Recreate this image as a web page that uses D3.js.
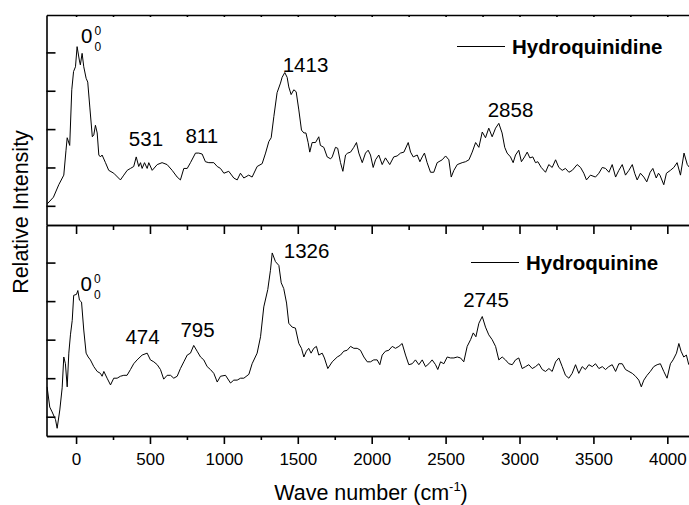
<!DOCTYPE html>
<html><head><meta charset="utf-8">
<script src="https://cdn.jsdelivr.net/npm/d3@7"></script>
<style>
body{margin:0;background:#fff}
text{font-family:Arial,"Liberation Sans",sans-serif;fill:#000}
</style>
</head><body>
<svg id="chart" width="689" height="505"></svg>
<script>
// ---- data (wavenumber cm^-1, relative intensity a.u.) ----
const seriesNames = ["Hydroquinidine", "Hydroquinine"];
const hydroquinidine = [
[-195,22],[-153,29],[-117,42],[-83,52],[-68,78],[-60,91],[-43,83],[-29,141],[-17,160],[-4,165],
[7,186],[22,172],[29,167],[41,179],[52,165],[68,153],[79,149],[93,123],[110,92],[120,94],
[131,104],[143,96],[154,73],[165,71],[176,73],[199,65],[221,57],[255,54],[300,47],[323,52],
[346,57],[368,59],[390,61],[407,71],[424,61],[436,65],[447,59],[463,65],[481,59],[492,65],
[515,57],[549,63],[582,65],[616,63],[650,57],[684,50],[706,47],[729,59],[752,59],[774,65],
[808,75],[830,75],[853,74],[875,66],[898,65],[932,65],[955,61],[977,59],[1000,54],[1033,56],
[1067,49],[1090,47],[1112,54],[1135,49],[1168,52],[1191,50],[1225,61],[1259,64],[1282,75],[1304,87],
[1320,91],[1338,113],[1360,138],[1383,148],[1394,154],[1412,159],[1428,154],[1439,144],[1455,136],[1473,141],
[1489,139],[1507,120],[1525,99],[1541,96],[1555,96],[1570,86],[1581,76],[1597,86],[1620,86],[1642,92],
[1653,83],[1676,81],[1699,71],[1722,69],[1733,71],[1755,81],[1770,80],[1789,65],[1805,56],[1823,73],
[1838,75],[1857,76],[1879,81],[1897,86],[1913,75],[1936,65],[1958,75],[1976,78],[1992,73],[2010,60],
[2026,68],[2048,73],[2071,63],[2093,70],[2122,63],[2149,71],[2172,72],[2195,75],[2218,76],[2247,86],
[2263,76],[2281,71],[2308,73],[2326,66],[2342,71],[2357,75],[2375,65],[2398,55],[2420,55],[2443,65],
[2477,68],[2500,72],[2522,68],[2538,50],[2556,57],[2579,63],[2612,65],[2635,66],[2658,68],[2680,76],
[2703,86],[2725,81],[2748,97],[2770,91],[2792,101],[2815,92],[2838,101],[2860,106],[2882,96],[2900,81],
[2916,75],[2939,71],[2957,65],[2973,73],[2995,78],[3013,66],[3034,71],[3052,76],[3070,70],[3090,71],
[3108,65],[3124,66],[3147,60],[3176,55],[3198,63],[3221,60],[3244,68],[3266,60],[3289,57],[3311,59],
[3334,55],[3357,57],[3390,63],[3413,60],[3435,54],[3453,47],[3480,52],[3514,50],[3537,54],[3560,60],
[3582,59],[3605,55],[3627,63],[3650,50],[3672,57],[3695,63],[3717,52],[3740,57],[3763,63],[3779,54],
[3796,47],[3818,54],[3841,50],[3861,45],[3884,55],[3902,59],[3925,49],[3940,54],[3950,52],[3976,42],
[3994,54],[4021,57],[4044,60],[4066,65],[4089,52],[4113,75],[4135,63],[4150,60]
];
const hydroquinine = [
[-196,51],[-178,30],[-162,25],[-139,17],[-128,8],[-110,27],[-94,50],[-83,82],[-72,75],[-60,51],
[-49,86],[-38,105],[-26,120],[-16,146],[3,147],[12,151],[23,141],[37,139],[52,110],[68,86],
[82,82],[97,79],[120,72],[143,67],[165,65],[176,62],[188,67],[210,60],[233,53],[255,60],
[278,60],[300,62],[323,63],[345,63],[368,69],[390,75],[413,79],[447,84],[481,86],[503,79],
[526,77],[549,74],[571,69],[593,59],[616,63],[639,63],[661,60],[684,62],[706,70],[729,77],
[752,84],[774,86],[796,94],[819,88],[842,82],[864,79],[887,72],[909,69],[932,65],[955,56],
[977,62],[1011,63],[1045,55],[1067,58],[1090,58],[1113,60],[1135,60],[1169,64],[1191,75],[1225,86],
[1248,103],[1270,134],[1297,152],[1315,172],[1327,190],[1349,181],[1372,177],[1388,159],[1405,153],[1424,138],
[1439,117],[1462,113],[1484,112],[1507,96],[1525,91],[1541,82],[1558,88],[1574,91],[1590,86],[1608,91],
[1626,93],[1642,84],[1665,86],[1680,81],[1703,70],[1733,77],[1767,82],[1789,84],[1811,88],[1834,89],
[1857,93],[1879,91],[1902,91],[1924,89],[1947,82],[1970,77],[1992,77],[2014,79],[2037,79],[2055,74],
[2071,84],[2093,88],[2116,89],[2139,93],[2161,91],[2184,93],[2206,96],[2229,84],[2251,74],[2274,75],
[2296,79],[2319,74],[2342,79],[2364,72],[2387,75],[2409,79],[2432,74],[2447,69],[2466,77],[2488,75],
[2511,82],[2533,81],[2556,81],[2579,82],[2601,81],[2623,77],[2646,93],[2669,100],[2687,107],[2705,103],
[2725,117],[2748,124],[2770,113],[2792,105],[2815,100],[2838,93],[2860,79],[2883,82],[2905,79],[2928,75],
[2951,74],[2973,79],[2995,81],[3018,70],[3041,72],[3063,74],[3086,70],[3108,72],[3131,75],[3154,69],
[3176,67],[3199,70],[3221,67],[3244,77],[3266,81],[3289,72],[3311,63],[3334,60],[3356,65],[3379,74],
[3401,65],[3424,72],[3446,69],[3469,74],[3492,72],[3514,75],[3537,70],[3560,72],[3582,69],[3604,72],
[3627,74],[3650,67],[3672,75],[3695,75],[3717,69],[3740,67],[3763,65],[3785,62],[3807,58],[3824,51],
[3841,58],[3863,63],[3885,67],[3908,72],[3931,74],[3953,75],[3976,67],[3998,60],[4021,75],[4039,79],
[4062,86],[4078,96],[4093,88],[4111,82],[4129,84],[4145,74]
];
const xMajorTicks = [0, 500, 1000, 1500, 2000, 2500, 3000, 3500, 4000];
const xMinorTicks = [250, 750, 1250, 1750, 2250, 2750, 3250, 3750];
const yTicks = [20, 60, 100, 140, 180];
// peak annotations: label text, anchored in data units (wavenumber, intensity)
const peaksTop = [["0",34,190,true],["531",357,82],["811",740,85],["1413",1398,160],["2858",2785,113]];
const peaksBottom = [["0",30,150,true],["474",334,96],["795",706,103],["1326",1405,185],["2745",2619,134]];

// ---- layout ----
const svg = d3.select("#chart");
const L = 46.5, R = 689.5, T = 15, MID = 225, B = 436;
const x = d3.scaleLinear().domain([-200, 4150]).range([L, R]);
const yTop = d3.scaleLinear().domain([0, 219]).range([MID, T]);
const yBot = d3.scaleLinear().domain([0, 219]).range([B, MID]);

svg.append("defs").append("clipPath").attr("id","clip")
  .append("rect").attr("x",L).attr("y",T).attr("width",R-L).attr("height",B-T);

function styleAxis(g, w){
  g.selectAll("path.domain").attr("stroke","#000").attr("stroke-width",w);
  g.selectAll(".tick line").attr("stroke","#000").attr("stroke-width",w);
}
const noFmt = () => "";

// top axis line (tiny ticks)
const gTopAx = svg.append("g").attr("transform",`translate(0,${T})`)
  .call(d3.axisBottom(x).tickValues(xMajorTicks.concat(xMinorTicks)).tickSizeInner(2).tickSizeOuter(0).tickFormat(noFmt));
styleAxis(gTopAx,1.6);

// middle separator: ticks pointing down
const gMidMaj = svg.append("g").attr("transform",`translate(0,${MID})`)
  .call(d3.axisBottom(x).tickValues(xMajorTicks).tickSizeInner(9).tickSizeOuter(0).tickFormat(noFmt));
styleAxis(gMidMaj,1.6);
const gMidMin = svg.append("g").attr("transform",`translate(0,${MID})`)
  .call(d3.axisBottom(x).tickValues(xMinorTicks).tickSizeInner(5).tickSizeOuter(0).tickFormat(noFmt));
styleAxis(gMidMin,1.6);

// bottom axis
const gBotMaj = svg.append("g").attr("transform",`translate(0,${B})`)
  .call(d3.axisBottom(x).tickValues(xMajorTicks).tickSizeInner(8).tickSizeOuter(0).tickPadding(9).tickFormat(d3.format("d")));
styleAxis(gBotMaj,1.6);
gBotMaj.selectAll(".tick text").attr("font-size",17).attr("font-family","Arial, 'Liberation Sans', sans-serif").attr("fill","#000");
const gBotMin = svg.append("g").attr("transform",`translate(0,${B})`)
  .call(d3.axisBottom(x).tickValues(xMinorTicks).tickSizeInner(4).tickSizeOuter(0).tickFormat(noFmt));
styleAxis(gBotMin,1.6);

// left axes (ticks inward)
[yTop, yBot].forEach(y => {
  const g = svg.append("g").attr("transform",`translate(${L},0)`)
    .call(d3.axisRight(y).tickValues(yTicks).tickSizeInner(9).tickSizeOuter(0).tickFormat(noFmt));
  styleAxis(g,1.6);
});

// spectra
const plot = svg.append("g").attr("clip-path","url(#clip)");
plot.append("path").datum(hydroquinidine)
  .attr("d", d3.line().x(d=>x(d[0])).y(d=>yTop(d[1])))
  .attr("fill","none").attr("stroke","#000").attr("stroke-width",1);
plot.append("path").datum(hydroquinine)
  .attr("d", d3.line().x(d=>x(d[0])).y(d=>yBot(d[1])))
  .attr("fill","none").attr("stroke","#000").attr("stroke-width",1);

// annotations
function annotate(list, y){
  list.forEach(p => {
    const t = svg.append("text").attr("x",x(p[1])).attr("y",y(p[2]))
      .attr("font-size",20.5).text(p[0]);
    if (p[3]) {
      const bb = t.node().getBBox();
      svg.append("text").attr("x",bb.x+bb.width+2).attr("y",y(p[2])-8)
        .attr("font-size",12).text("0");
      svg.append("text").attr("x",bb.x+bb.width+2).attr("y",y(p[2])+8)
        .attr("font-size",12).text("0");
    }
  });
}
annotate(peaksTop, yTop);
annotate(peaksBottom, yBot);

// legends
function legend(name, lx, ly){
  svg.append("line").attr("x1",lx).attr("x2",lx+48).attr("y1",ly).attr("y2",ly)
    .attr("stroke","#000").attr("stroke-width",1);
  svg.append("text").attr("x",lx+55).attr("y",ly+7.5).attr("font-size",20.5)
    .attr("font-weight","bold").text(name);
}
legend(seriesNames[0], 457, 46.5);
legend(seriesNames[1], 471, 262.5);

// axis titles
const xt = svg.append("text").attr("x",371).attr("y",500).attr("text-anchor","middle").attr("font-size",21.5);
xt.append("tspan").text("Wave number (cm");
xt.append("tspan").attr("font-size",13).attr("dy",-9).text("-1");
xt.append("tspan").attr("dy",9).text(")");

svg.append("text").attr("transform",`translate(27.5,212) rotate(-90)`)
  .attr("text-anchor","middle").attr("font-size",21.5).text("Relative Intensity");
</script>
</body></html>
